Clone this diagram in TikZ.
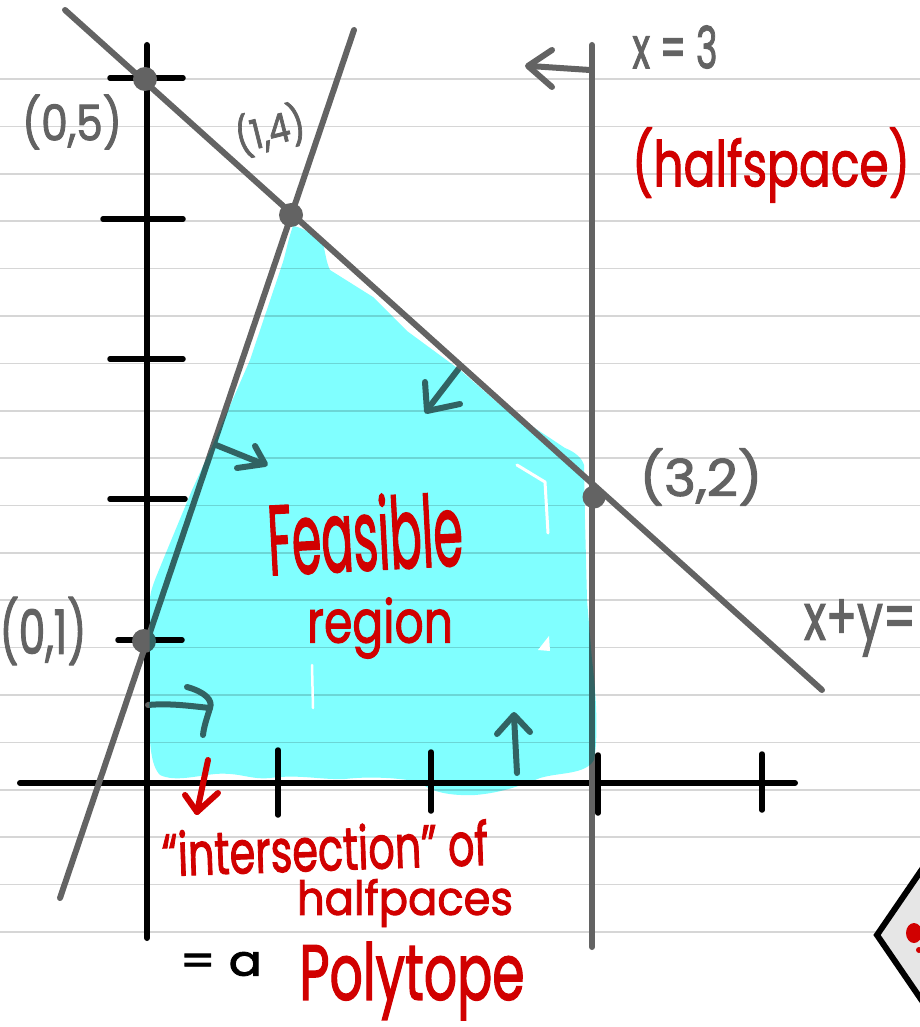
\documentclass[tikz,border=0pt]{standalone}
\usepackage{fontspec}
\setmainfont{Poppins}[FakeBold=2]
\definecolor{nbline}{HTML}{D6D6D6}
\definecolor{pen}{HTML}{636363}
\definecolor{redpen}{HTML}{D10000}
\definecolor{hl}{HTML}{80FFFF}
\definecolor{diam}{HTML}{E6E6E6}
\newcommand{\hwtext}[3]{\resizebox*{#1pt}{#2pt}{#3}}
\begin{document}
\begin{tikzpicture}[x=1pt,y=-1pt,
 nb/.style={nbline,line width=1.6pt},
 axisline/.style={black,line width=6pt,line cap=round},
 tickline/.style={black,line width=5.5pt,line cap=round},
 penline/.style={pen,line width=6pt,line cap=round},
 arrowline/.style={pen,line width=6pt,line cap=round,line join=round},
 redarrow/.style={redpen,line width=6pt,line cap=round,line join=round},
 dot/.style={circle,fill=pen,inner sep=0,minimum size=24pt},
 greytext/.style={pen,inner sep=0},
 redtext/.style={redpen,inner sep=0},
 blacktext/.style={black,inner sep=0},
]
\useasboundingbox (0,0) rectangle (920,1027);
\clip (0,0) rectangle (920,1027);
\fill[white] (0,0) rectangle (920,1027);
% notebook lines
\foreach \k in {0,...,18} \draw[nb] (0,79+47.39*\k) -- (920,79+47.39*\k);
% axes
\coordinate (ytop) at (147,45); \coordinate (ybot) at (147,938);
\coordinate (xleft) at (20,783); \coordinate (xright) at (795,783);
\draw[axisline] (ytop) -- (ybot);
\draw[axisline] (xleft) -- (xright);
% y ticks
\draw[tickline] (110,78) -- (183,78);
\draw[tickline] (103,219) -- (183,219);
\draw[tickline] (110,359) -- (183,359);
\draw[tickline] (110,499) -- (185,499);
\draw[tickline] (118,640) -- (182,640);
% x ticks
\draw[tickline] (278,750) -- (278,815);
\draw[tickline] (431,752) -- (431,811);
\draw[tickline] (598,755) -- (598,813);
\draw[tickline] (762,754) -- (762,810);
% constraint lines under the fill
\coordinate (lA) at (60,898); \coordinate (lB) at (354,30);
\draw[penline] (lA) -- (lB);
\coordinate (vA) at (592,45); \coordinate (vB) at (592,947);
\draw[penline] (vA) -- (vB);
% halfspace arrows (tinted by the highlighter)
\draw[arrowline] (460,367) -- (427,410);
\draw[arrowline] (425,382) -- (427,411) -- (460,404);
\draw[arrowline] (216,445) -- (263,464);
\draw[arrowline] (255,446) -- (265,464) -- (237,468);
\draw[arrowline] (148,705) .. controls (170,703) and (190,706) .. (210,708);
\draw[arrowline] (187,687) .. controls (205,692) and (213,700) .. (210,708) .. controls (207,718) and (204,726) .. (203,735);
\draw[arrowline] (517,773) -- (514,716);
\draw[arrowline] (497,734) -- (514,715) -- (530,732);
\node[dot] (p01) at (144,641) {};
% highlighter fill
\begin{scope}[blend mode=multiply]
\fill[hl] (293,226) .. controls (288,240) and (286,252) .. (283,262)
  -- (250,360) -- (215,440) -- (192,490) -- (163,560)
  .. controls (155,580) and (150,590) .. (150,600)
  -- (149,700) .. controls (149,740) and (150,765) .. (160,775)
  .. controls (175,782) and (195,776) .. (215,774)
  .. controls (240,772) and (250,780) .. (270,778)
  .. controls (300,774) and (320,780) .. (345,779)
  .. controls (370,776) and (400,778) .. (420,782)
  .. controls (430,792) and (450,796) .. (475,795)
  .. controls (500,793) and (520,786) .. (540,778)
  .. controls (560,772) and (585,775) .. (594,760)
  .. controls (598,740) and (597,700) .. (592,660)
  -- (587,600) -- (585,520) -- (584,465)
  .. controls (582,458) and (575,452) .. (565,448)
  -- (500,405) -- (460,370) -- (407,331) -- (373,297) -- (330,270)
  .. controls (326,262) and (325,250) .. (323,244)
  .. controls (315,236) and (305,228) .. (293,226) -- cycle;
\end{scope}
% gaps in the highlighter
\draw[white,line width=3pt,line cap=round,line join=round] (517,465) -- (545,482) -- (548,533);
\draw[white,line width=2.5pt,line cap=round] (312,665) -- (313,708);
\fill[white] (538,650) -- (549,636) -- (550,651) -- cycle;
% top arrow at x=3
\draw[arrowline] (590,70) -- (530,66);
\draw[arrowline] (552,50) -- (528,66) -- (552,87);
% x+y=5 line and dots
\coordinate (dA) at (65,10); \coordinate (dB) at (822,690);
\draw[penline] (dA) -- (dB);
\node[dot] (p05) at (145,79) {};
\node[dot] (p14) at (291,215) {};
\node[dot,minimum size=23pt] (p32) at (594,497) {};
% red arrow below axis
\draw[redarrow] (208,760) -- (197,812);
\draw[redarrow] (185,795) -- (197,812) -- (218,793);
% labels
\node[greytext] (t05) at (72,122) {\hwtext{100}{55}{(0,5)}};
\node[greytext,rotate=14] (t14) at (270,130) {\hwtext{70}{45}{(1,4)}};
\node[greytext] (t32) at (701,477) {\hwtext{123}{57}{(3,2)}};
\node[greytext] (t01) at (43,631) {\hwtext{87}{68}{(0,1)}};
\node[greytext] (tx3) at (675,47) {\hwtext{85}{43}{x = 3}};
\node[greytext] (txy) at (860,628) {\hwtext{112}{57}{x+y=}};
\node[redtext] (thalf) at (771,165) {\hwtext{278}{75}{(halfspace)}};
\node[redtext,rotate=3] (tfeas) at (365,533) {\hwtext{195}{76}{Feasible}};
\node[redtext] (treg) at (380,628) {\hwtext{146}{61}{region}};
\node[redtext,rotate=2] (tint) at (325,848) {\hwtext{326}{46}{“intersection” of}};
\node[redtext] (thp) at (405,903) {\hwtext{216}{48}{halfpaces}};
\node[blacktext] (teqa) at (221,964) {\hwtext{82}{24}{= a}};
\node[redtext] (tpoly) at (412,981) {\hwtext{225}{78}{Polytope}};
% diamond at the edge
\filldraw[fill=diam,draw=black,line width=6pt,line join=miter] (877,935) -- (927,862) -- (977,935) -- (927,1008) -- cycle;
\fill[redpen] (914,933) ellipse (8 and 10);
\fill[redpen] (919,950) circle (3);
\end{tikzpicture}
\end{document}
